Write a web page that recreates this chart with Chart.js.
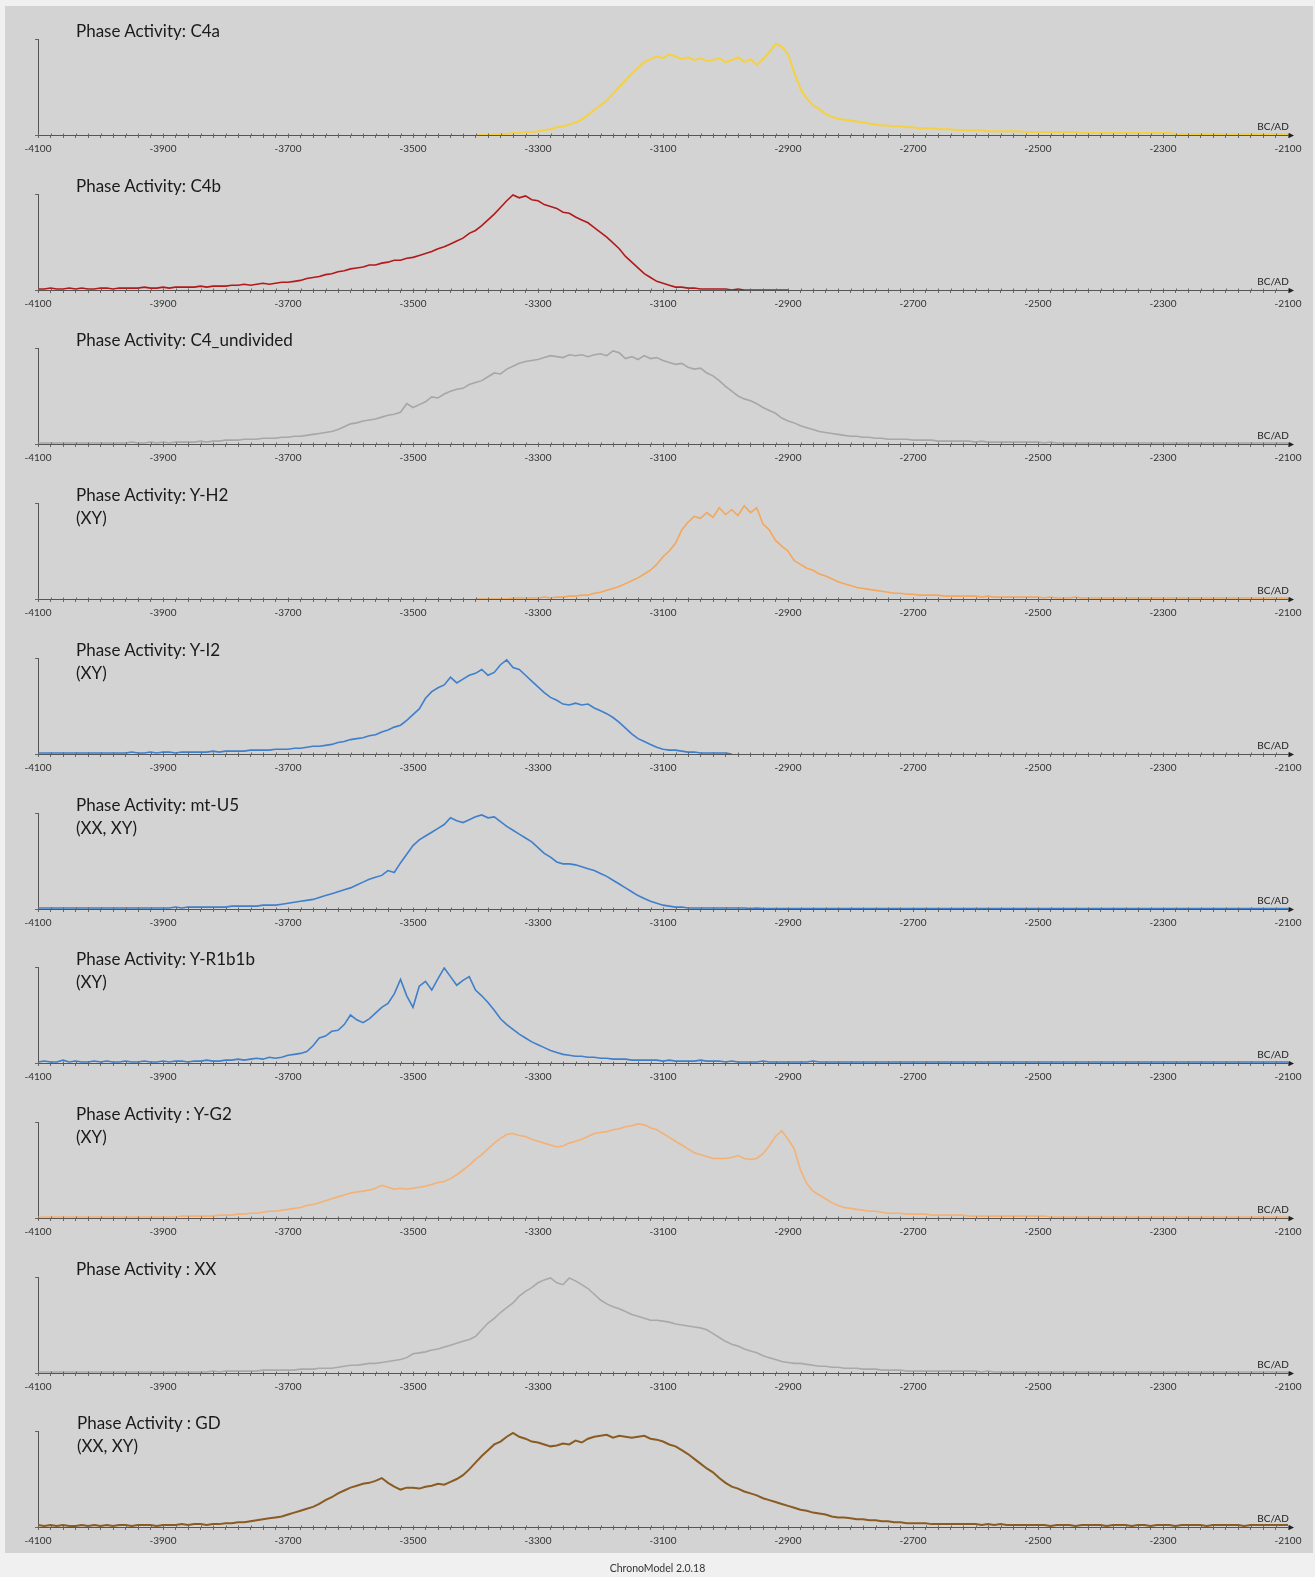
<!DOCTYPE html>
<html>
<head>
<meta charset="utf-8">
<title>Phase Activity</title>
<script src="https://cdn.jsdelivr.net/npm/chart.js@4.4.1/dist/chart.umd.min.js"></script>
<style>
    body { margin: 0; width: 1315px; height: 1577px; background: #f0f0f0; position: relative; overflow: hidden; font-family: Lato, "Open Sans", sans-serif; }
    #sheet { position: absolute; left: 5px; top: 6px; width: 1308px; height: 1547px; background: #d3d3d3; }
    canvas { position: absolute; left: 0; }
    .titre { position: absolute; left: 76px; font-size: 17px; line-height: 23px; color: #1a1a1a; white-space: nowrap; }
    #pie { position: absolute; top: 1562px; left: 0; width: 1315px; text-align: center; font-size: 10.5px; color: #333; }
</style>
</head>
<body>
<div id="sheet"></div>
<div id="panels"></div>
<div id="pie">ChronoModel 2.0.18</div>
<script>
'use strict';

////////////////////////////////////////////////////
// eje X: años (BC/AD)
const firstYear = -4100;
const lastYear = -2100;
const yearStep = 10;      // separación entre valores de cada serie
const minorStep = 20;     // rayitas pequeñas del eje
const tickLabels = [-4100, -3900, -3700, -3500, -3300, -3100, -2900, -2700, -2500, -2300, -2100];

const panelTitles = [
    'Phase Activity: C4a',
    'Phase Activity: C4b',
    'Phase Activity: C4_undivided',
    'Phase Activity: Y-H2',
    'Phase Activity: Y-I2',
    'Phase Activity: mt-U5',
    'Phase Activity: Y-R1b1b',
    'Phase Activity : Y-G2',
    'Phase Activity : XX',
    'Phase Activity : GD'
];
const panelSubtitles = ['', '', '', '(XY)', '(XY)', '(XX, XY)', '(XY)', '(XY)', '', '(XX, XY)'];
const panelColors = ['#f5d142', '#b3191b', '#a7a7a7', '#f4a75c', '#3f7fcb', '#3f7fcb', '#3f7fcb', '#f4b174', '#a9a9a9', '#8a5b22'];
const startYears = [-3400, -4100, -4100, -3400, -4100, -4100, -4100, -4100, -4100, -4100];

// valores (0-100, 100 = rayita superior del eje Y), uno cada 10 años
const c4a = [
    0, 0, 0, 1, 1, 1, 2, 2, 3, 3,
    4, 5, 6, 8, 9, 11, 13, 16, 21, 26,
    31, 36, 43, 50, 57, 64, 70, 76, 79, 82,
    80, 84, 82, 79, 81, 78, 80, 77, 78, 80,
    76, 78, 81, 76, 79, 73, 79, 86, 95, 92,
    84, 65, 48, 38, 31, 27, 22, 19, 17, 16,
    15, 14, 13, 12, 11, 10, 10, 9, 9, 8,
    8, 7, 7, 7, 6, 6, 6, 5, 5, 5,
    5, 5, 4, 4, 4, 4, 4, 4, 3, 3,
    3, 3, 3, 3, 3, 3, 3, 2, 2, 2,
    2, 2, 2, 2, 2, 2, 2, 2, 2, 2,
    2, 2, 1, 1, 1, 1, 1, 1, 1, 1,
    1, 1, 1, 1, 1, 1, 1, 1, 1, 1,
    1
];
const c4b = [
    1, 1, 2, 1, 1, 2, 1, 2, 1, 1,
    2, 2, 1, 2, 2, 2, 2, 3, 2, 2,
    3, 2, 3, 3, 3, 3, 4, 3, 4, 4,
    4, 5, 5, 6, 5, 6, 7, 6, 7, 8,
    8, 9, 10, 12, 13, 14, 16, 17, 19, 20,
    22, 23, 24, 26, 26, 28, 29, 31, 31, 33,
    34, 36, 38, 40, 43, 45, 48, 51, 54, 59,
    62, 67, 73, 79, 86, 93, 99, 96, 98, 94,
    93, 89, 87, 85, 81, 80, 76, 73, 70, 65,
    60, 55, 49, 43, 35, 29, 23, 17, 13, 9,
    7, 5, 3, 3, 2, 2, 1, 1, 1, 1,
    1, 0, 1, 0, 0, 0, 0, 0, 0, 0,
    0
];
const c4Undivided = [
    1, 1, 1, 1, 1, 1, 1, 1, 1, 1,
    1, 1, 1, 1, 1, 2, 1, 1, 2, 1,
    2, 1, 2, 2, 2, 2, 3, 2, 3, 3,
    4, 4, 4, 5, 5, 5, 6, 6, 6, 7,
    7, 8, 8, 9, 10, 11, 12, 13, 15, 18,
    21, 22, 24, 25, 26, 28, 30, 31, 33, 42,
    38, 41, 44, 49, 48, 52, 55, 57, 58, 62,
    64, 66, 70, 74, 73, 78, 81, 84, 86, 87,
    88, 90, 92, 91, 90, 93, 92, 93, 91, 93,
    94, 92, 97, 95, 89, 91, 88, 92, 89, 90,
    87, 85, 83, 84, 80, 78, 79, 74, 71, 66,
    60, 55, 50, 47, 45, 42, 38, 35, 32, 27,
    24, 22, 19, 17, 15, 13, 12, 11, 10, 9,
    8, 8, 7, 7, 6, 6, 5, 5, 5, 5,
    4, 4, 4, 4, 3, 3, 3, 3, 3, 3,
    2, 3, 2, 2, 2, 2, 2, 2, 2, 2,
    2, 1, 2, 1, 1, 1, 1, 1, 1, 1,
    1, 1, 1, 1, 1, 1, 1, 1, 1, 1,
    1, 1, 1, 1, 1, 1, 1, 1, 1, 1,
    1, 1, 1, 1, 1, 1, 1, 1, 1, 1,
    1
];
const yH2 = [
    0, 0, 0, 0, 0, 0, 1, 1, 1, 1,
    1, 2, 1, 2, 2, 3, 3, 4, 4, 6,
    7, 9, 11, 13, 16, 19, 22, 26, 30, 36,
    44, 50, 58, 72, 80, 86, 84, 90, 85, 95,
    88, 93, 87, 97, 90, 95, 78, 72, 61, 55,
    50, 40, 36, 32, 30, 26, 24, 21, 18, 16,
    14, 12, 11, 10, 9, 8, 7, 6, 6, 5,
    5, 4, 4, 4, 4, 3, 3, 3, 3, 3,
    3, 2, 3, 2, 2, 2, 2, 2, 2, 2,
    2, 1, 2, 1, 1, 1, 2, 1, 1, 1,
    1, 1, 1, 1, 1, 1, 1, 1, 1, 1,
    1, 1, 1, 1, 1, 1, 1, 1, 1, 1,
    1, 1, 1, 1, 1, 1, 1, 1, 1, 1,
    1
];
const yI2 = [
    1, 1, 1, 1, 1, 1, 1, 1, 1, 1,
    1, 1, 1, 1, 1, 2, 1, 1, 2, 1,
    2, 2, 1, 2, 2, 2, 2, 2, 3, 2,
    3, 3, 3, 3, 4, 4, 4, 4, 5, 5,
    5, 6, 6, 7, 8, 8, 9, 10, 12, 13,
    15, 16, 17, 19, 20, 23, 25, 28, 30, 35,
    41, 47, 58, 65, 69, 72, 80, 74, 78, 82,
    84, 88, 82, 85, 93, 98, 90, 88, 82, 76,
    70, 64, 59, 56, 52, 51, 53, 51, 52, 48,
    45, 42, 38, 33, 27, 21, 16, 13, 10, 7,
    5, 4, 4, 3, 2, 2, 1, 1, 1, 1,
    1, 0
];
const mtU5 = [
    1, 1, 1, 1, 1, 1, 1, 1, 1, 1,
    1, 1, 1, 1, 1, 1, 1, 1, 1, 1,
    1, 1, 2, 1, 2, 2, 2, 2, 2, 2,
    2, 3, 3, 3, 3, 3, 4, 4, 4, 5,
    6, 7, 8, 9, 10, 12, 14, 16, 18, 20,
    22, 25, 28, 31, 33, 35, 40, 38, 48, 57,
    66, 72, 76, 80, 84, 88, 95, 92, 90, 93,
    96, 98, 95, 96, 91, 86, 82, 78, 74, 70,
    64, 58, 54, 49, 47, 47, 46, 44, 42, 40,
    37, 34, 30, 26, 22, 18, 14, 11, 8, 6,
    4, 3, 2, 2, 1, 1, 1, 1, 1, 1,
    1, 1, 1, 1, 0.5, 1, 0.5, 0.5, 0.5, 0.5,
    0.5, 0.5, 0.5, 0.5, 0.5, 0.5, 0.5, 0.5, 0.5, 0.5,
    0.5, 0.5, 0.5, 0.5, 0.5, 0.5, 0.5, 0.5, 0.5, 0.5,
    0.5, 0.5, 0.5, 0.5, 0.5, 0.5, 0.5, 0.5, 0.5, 0.5,
    0.5, 0.5, 0.5, 0.5, 0.5, 0.5, 0.5, 0.5, 0.5, 0.5,
    0.5, 0.5, 0.5, 0.5, 0.5, 0.5, 0.5, 0.5, 0.5, 0.5,
    0.5, 0.5, 0.5, 0.5, 0.5, 0.5, 0.5, 0.5, 0.5, 0.5,
    0.5, 0.5, 0.5, 0.5, 0.5, 0.5, 0.5, 0.5, 0.5, 0.5,
    0.5, 0.5, 0.5, 0.5, 0.5, 0.5, 0.5, 0.5, 0.5, 0.5,
    0.5
];
const yR1b1b = [
    1, 2, 1, 1, 3, 1, 2, 1, 1, 2,
    1, 2, 1, 1, 2, 1, 1, 2, 1, 1,
    2, 1, 2, 2, 1, 2, 2, 3, 2, 2,
    3, 3, 4, 3, 4, 5, 4, 6, 5, 6,
    8, 9, 10, 12, 18, 26, 28, 33, 34, 40,
    50, 45, 42, 46, 52, 58, 62, 72, 87, 70,
    58, 80, 85, 76, 88, 99, 90, 81, 86, 90,
    76, 70, 63, 55, 46, 40, 35, 30, 26, 22,
    19, 16, 13, 11, 9, 8, 7, 7, 6, 6,
    5, 5, 4, 4, 4, 3, 3, 3, 3, 3,
    2, 3, 2, 2, 2, 2, 3, 2, 2, 2,
    1, 2, 1, 1, 1, 1, 2, 1, 1, 1,
    1, 1, 1, 1, 2, 1, 1, 1, 1, 1,
    1, 1, 1, 1, 1, 1, 1, 1, 1, 1,
    1, 1, 1, 1, 1, 1, 1, 1, 1, 1,
    1, 1, 1, 1, 1, 1, 1, 1, 1, 1,
    1, 1, 1, 1, 1, 1, 1, 1, 1, 1,
    1, 1, 1, 1, 1, 1, 1, 1, 1, 1,
    1, 1, 1, 1, 1, 1, 1, 1, 1, 1,
    1, 1, 1, 1, 1, 1, 1, 1, 1, 1,
    1
];
const yG2 = [
    1, 1, 1, 1, 1, 1, 1, 1, 1, 1,
    1, 1, 1, 1, 1, 1, 1, 1, 1, 1,
    1, 1, 1, 2, 2, 2, 2, 2, 2, 3,
    3, 3, 4, 4, 5, 5, 6, 7, 7, 8,
    9, 10, 11, 13, 14, 16, 18, 20, 22, 24,
    26, 27, 28, 29, 31, 34, 32, 30, 31, 30,
    31, 32, 33, 35, 37, 38, 41, 45, 50, 55,
    61, 66, 72, 78, 83, 87, 88, 86, 85, 82,
    80, 78, 76, 74, 75, 78, 80, 82, 85, 88,
    89, 90, 92, 93, 95, 96, 98, 97, 94, 92,
    88, 84, 80, 76, 72, 68, 66, 64, 62, 62,
    62, 63, 65, 62, 61, 62, 67, 75, 85, 91,
    82, 72, 50, 36, 28, 24, 20, 16, 13, 11,
    10, 9, 8, 7, 7, 6, 5, 5, 5, 4,
    4, 4, 4, 3, 3, 3, 3, 3, 3, 2,
    2, 2, 2, 2, 2, 2, 2, 2, 2, 2,
    2, 2, 1, 1, 1, 1, 1, 1, 1, 1,
    1, 1, 1, 1, 1, 1, 1, 1, 1, 1,
    1, 1, 1, 1, 1, 1, 1, 1, 1, 1,
    1, 1, 1, 1, 1, 1, 1, 1, 1, 1,
    1
];
const xx = [
    1, 1, 1, 1, 1, 1, 1, 1, 1, 1,
    1, 1, 1, 1, 1, 1, 1, 1, 1, 1,
    1, 1, 1, 1, 1, 1, 1, 1, 2, 1,
    2, 2, 2, 2, 2, 2, 3, 3, 3, 3,
    3, 3, 4, 4, 4, 5, 5, 5, 6, 7,
    8, 8, 9, 10, 10, 11, 12, 13, 14, 16,
    20, 21, 22, 24, 25, 27, 29, 31, 33, 35,
    38, 45, 52, 57, 63, 68, 73, 80, 85, 89,
    94, 97, 99, 94, 92, 99, 96, 92, 88, 82,
    76, 72, 69, 67, 64, 61, 59, 57, 55, 55,
    54, 53, 51, 50, 49, 48, 47, 45, 41, 37,
    33, 30, 28, 25, 23, 21, 18, 16, 14, 12,
    11, 10, 10, 9, 8, 7, 7, 6, 6, 5,
    5, 5, 4, 4, 4, 3, 3, 3, 3, 2,
    2, 2, 2, 2, 2, 2, 2, 2, 2, 2,
    2, 1, 2, 1, 1, 1, 1, 1, 1, 1,
    1, 1, 1, 1, 1, 1, 1, 1, 1, 1,
    1, 1, 1, 1, 1, 1, 1, 1, 1, 1,
    1, 1, 1, 1, 1, 1, 1, 1, 1, 1,
    1, 1, 1, 1, 1, 1, 1, 1, 1, 1,
    1
];
const gd = [
    2, 1, 2, 1, 2, 1, 1, 2, 1, 2,
    1, 2, 1, 2, 2, 1, 2, 2, 2, 1,
    2, 2, 2, 3, 2, 3, 3, 2, 3, 3,
    4, 4, 5, 5, 6, 7, 8, 9, 10, 11,
    13, 15, 17, 19, 21, 24, 28, 31, 35, 38,
    41, 43, 45, 46, 48, 51, 46, 42, 39, 41,
    41, 40, 42, 43, 45, 44, 47, 50, 54, 60,
    67, 74, 80, 86, 89, 94, 98, 94, 92, 89,
    88, 86, 84, 85, 87, 86, 90, 88, 92, 94,
    95, 96, 93, 95, 94, 93, 94, 95, 92, 91,
    89, 86, 84, 80, 76, 71, 66, 61, 57, 51,
    46, 42, 40, 37, 35, 33, 30, 28, 26, 24,
    22, 20, 18, 17, 15, 14, 13, 11, 10, 10,
    9, 8, 8, 7, 7, 6, 6, 5, 5, 4,
    4, 4, 4, 3, 3, 3, 3, 3, 3, 3,
    3, 2, 3, 2, 3, 2, 2, 2, 2, 2,
    2, 2, 1, 2, 2, 2, 1, 2, 2, 2,
    2, 1, 2, 2, 2, 1, 2, 2, 1, 2,
    2, 2, 1, 2, 2, 2, 2, 1, 2, 2,
    2, 2, 2, 1, 2, 2, 2, 2, 2, 2,
    2
];
const panelValues = [c4a, c4b, c4Undivided, yH2, yI2, mtU5, yR1b1b, yG2, xx, gd];
////////////////////////////////////////////////////

// geometría de los paneles (px)
const pageWidth = 1315;
const firstAxisY = 135;
const panelStep = 154.7;
const canvasHeight = 155;
const axisInCanvas = 110;

// flecha del eje, rayitas por encima del eje y texto BC/AD
const axisExtras = {
    id: 'axisExtras',
    afterDraw(chart) {
        const ctx = chart.ctx;
        const area = chart.chartArea;
        const sx = chart.scales.x;
        const y0 = Math.round(chart.scales.y.getPixelForValue(0)) + 0.5;
        ctx.save();
        ctx.strokeStyle = '#666';
        ctx.fillStyle = '#222';
        ctx.lineWidth = 1;
        ctx.beginPath();
        sx.ticks.forEach(t => {
            const px = Math.round(sx.getPixelForValue(t.value)) + 0.5;
            ctx.moveTo(px, y0 - 2);
            ctx.lineTo(px, y0);
        });
        ctx.stroke();
        ctx.strokeStyle = '#555';
        ctx.beginPath();
        ctx.moveTo(area.right, y0);
        ctx.lineTo(area.right + 3, y0);
        ctx.stroke();
        ctx.beginPath();
        ctx.moveTo(area.right + 6, y0);
        ctx.lineTo(area.right + 1, y0 - 2.5);
        ctx.lineTo(area.right + 1, y0 + 2.5);
        ctx.closePath();
        ctx.fill();
        ctx.font = '10px Lato';
        ctx.textAlign = 'center';
        ctx.fillText('BC/AD', area.right - 15, y0 - 6);
        ctx.restore();
    }
};

function puntos(values, start) {
    return values.map((v, i) => ({ x: start + i * yearStep, y: v }));
}

function rayitas() {
    const t = [];
    for (let y = firstYear; y <= lastYear; y += minorStep) {
        t.push({ value: y });
    }
    return t;
}

function panel(i) {
    const axisY = firstAxisY + panelStep * i;
    const cont = document.getElementById('panels');

    const canvas = document.createElement('canvas');
    canvas.width = pageWidth;
    canvas.height = canvasHeight;
    canvas.style.top = (Math.round(axisY) - axisInCanvas) + 'px';
    cont.appendChild(canvas);

    const titulo = document.createElement('div');
    titulo.className = 'titre';
    titulo.style.top = (axisY - 116) + 'px';
    if (i === 9) titulo.style.left = '77px';
    titulo.innerHTML = panelTitles[i] + (panelSubtitles[i] ? '<br>' + panelSubtitles[i] : '');
    cont.appendChild(titulo);

    new Chart(canvas.getContext('2d'), {
        type: 'line',
        data: {
            datasets: [{
                data: puntos(panelValues[i], startYears[i]),
                borderColor: panelColors[i],
                borderWidth: (i === 0 || i === 9) ? 2 : 1.6,
                pointRadius: 0,
                tension: 0,
                fill: false
            }]
        },
        options: {
            responsive: false,
            animation: false,
            devicePixelRatio: 1,
            layout: { padding: { left: 38, right: 27, top: axisInCanvas - 96, bottom: canvasHeight - axisInCanvas - 30 } },
            plugins: { legend: { display: false }, tooltip: { enabled: false } },
            scales: {
                x: {
                    type: 'linear',
                    min: firstYear,
                    max: lastYear,
                    afterBuildTicks: (s) => { s.ticks = rayitas(); },
                    afterFit: (s) => { s.height = 30; },
                    ticks: {
                        autoSkip: false,
                        maxRotation: 0,
                        padding: 5,
                        color: '#333',
                        font: { family: 'Lato', size: 10 },
                        callback: (v) => tickLabels.includes(v) ? String(v) : ''
                    },
                    grid: { drawOnChartArea: false, tickLength: 3, color: '#666' },
                    border: { color: '#555' }
                },
                y: {
                    min: 0,
                    max: 100,
                    afterBuildTicks: (s) => { s.ticks = [{ value: 0 }, { value: 100 }]; },
                    afterFit: (s) => { s.width = 0; },
                    ticks: { display: false },
                    grid: { drawOnChartArea: false, tickLength: 3, color: '#666' },
                    border: { color: '#555' }
                }
            }
        },
        plugins: [axisExtras]
    });
}

//////////MAIN///////////////
for (let i = 0; i < panelTitles.length; i++) {
    panel(i);
}
</script>
</body>
</html>
